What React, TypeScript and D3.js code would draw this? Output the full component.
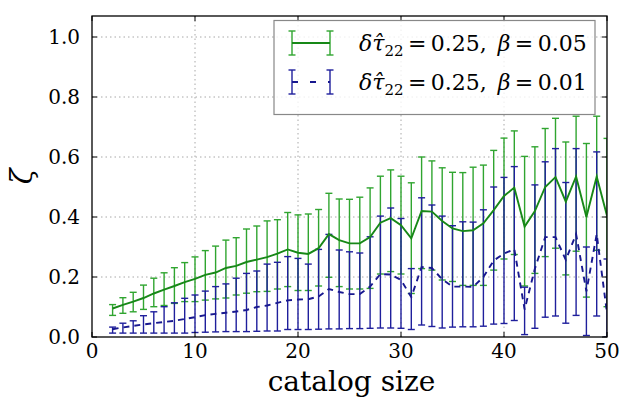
import React from "react";
import * as d3 from "d3";

const catalogSize = [2,3,4,5,6,7,8,9,10,11,12,13,14,15,16,17,18,19,20,21,22,23,24,25,26,27,28,29,30,31,32,33,34,35,36,37,38,39,40,41,42,43,44,45,46,47,48,49,50];

// series A: delta tau22 = 0.25, beta = 0.05
const meanA = [0.095,0.107,0.118,0.130,0.145,0.158,0.170,0.183,0.194,0.207,0.215,0.230,0.237,0.250,0.258,0.266,0.278,0.292,0.281,0.277,0.296,0.343,0.323,0.312,0.312,0.333,0.381,0.396,0.373,0.329,0.420,0.418,0.387,0.362,0.353,0.356,0.379,0.423,0.470,0.498,0.368,0.420,0.500,0.533,0.451,0.535,0.400,0.535,0.404];
const hiA = [0.108,0.131,0.149,0.173,0.196,0.214,0.231,0.248,0.267,0.288,0.303,0.323,0.331,0.360,0.370,0.387,0.391,0.415,0.407,0.410,0.425,0.479,0.460,0.459,0.466,0.497,0.536,0.557,0.536,0.514,0.600,0.587,0.564,0.549,0.548,0.566,0.573,0.622,0.663,0.687,0.602,0.634,0.695,0.729,0.650,0.736,0.645,0.736,0.662];
const loA = [0.072,0.079,0.084,0.092,0.101,0.105,0.112,0.118,0.118,0.123,0.127,0.130,0.140,0.146,0.151,0.152,0.160,0.168,0.155,0.155,0.170,0.199,0.168,0.160,0.160,0.162,0.210,0.218,0.210,0.145,0.228,0.223,0.190,0.185,0.172,0.172,0.172,0.223,0.260,0.275,0.170,0.212,0.268,0.296,0.207,0.286,0.133,0.289,0.101];

// series B: delta tau22 = 0.25, beta = 0.01
const meanB = [0.026,0.032,0.037,0.042,0.046,0.050,0.054,0.060,0.066,0.073,0.077,0.081,0.085,0.090,0.100,0.105,0.114,0.122,0.125,0.126,0.135,0.160,0.150,0.143,0.143,0.168,0.210,0.208,0.190,0.133,0.233,0.230,0.192,0.168,0.168,0.167,0.200,0.255,0.278,0.293,0.092,0.228,0.333,0.333,0.257,0.343,0.152,0.343,0.080];
const hiB = [0.033,0.046,0.054,0.071,0.084,0.101,0.114,0.129,0.140,0.153,0.168,0.177,0.196,0.212,0.220,0.243,0.249,0.268,0.262,0.243,0.292,0.342,0.290,0.284,0.280,0.334,0.403,0.430,0.395,0.228,0.464,0.440,0.403,0.371,0.384,0.383,0.424,0.500,0.532,0.568,0.166,0.507,0.584,0.628,0.515,0.628,0.300,0.617,0.260];
const loB = [0.013,0.013,0.013,0.013,0.013,0.013,0.013,0.013,0.015,0.016,0.017,0.018,0.018,0.018,0.019,0.020,0.020,0.025,0.025,0.025,0.026,0.027,0.027,0.028,0.028,0.029,0.030,0.030,0.029,0.025,0.040,0.035,0.030,0.033,0.034,0.034,0.036,0.043,0.045,0.055,0.008,0.029,0.066,0.070,0.046,0.072,0.005,0.070,0.000];

const xTicks = [0, 10, 20, 30, 40, 50];
const yTicks = [0.0, 0.2, 0.4, 0.6, 0.8, 1.0];

const W = 621, H = 406;
const L = 92, R = 607, T = 16, B = 337;
const FONT = "'DejaVu Serif', serif";

const greenLine = "#178817";
const greenBar = "#30a530";
const blueLine = "#18188f";
const blueBar = "#1f1f9c";

export default function App() {
  const x = d3.scaleLinear().domain([0, 50]).range([L, R]);
  const y = d3.scaleLinear().domain([0, 1.07]).range([B, T]);
  const lineGen = d3.line<number>().x((_, i) => x(catalogSize[i])).y((d) => y(d));
  const cap = 3.5;

  const bars = (lo: number[], hi: number[], color: string, key: string) =>
    catalogSize.map((c, i) => {
      const px = x(c);
      return (
        <g key={key + i} stroke={color} strokeWidth={1.4}>
          <line x1={px} x2={px} y1={y(lo[i])} y2={y(hi[i])} />
          <line x1={px - cap} x2={px + cap} y1={y(lo[i])} y2={y(lo[i])} />
          <line x1={px - cap} x2={px + cap} y1={y(hi[i])} y2={y(hi[i])} />
        </g>
      );
    });

  const legendRow = (yy: number, color: string, barColor: string, dashed: boolean, beta: string) => (
    <g>
      <g stroke={barColor} strokeWidth={1.4}>
        <line x1={292} x2={292} y1={yy - 12} y2={yy + 12} />
        <line x1={288.5} x2={295.5} y1={yy - 12} y2={yy - 12} />
        <line x1={288.5} x2={295.5} y1={yy + 12} y2={yy + 12} />
        <line x1={330} x2={330} y1={yy - 12} y2={yy + 12} />
        <line x1={326.5} x2={333.5} y1={yy - 12} y2={yy - 12} />
        <line x1={326.5} x2={333.5} y1={yy + 12} y2={yy + 12} />
      </g>
      <line x1={292} x2={330} y1={yy} y2={yy} stroke={color} strokeWidth={1.8}
        strokeDasharray={dashed ? "6,12" : undefined} />
      <text x={359} y={yy + 8} fontFamily={FONT} fontSize={22} fill="#000">
        <tspan fontStyle="italic">δ</tspan>
        <tspan fontStyle="italic">{"τ\u0302"}</tspan>
        <tspan fontSize={15} dy={5}>22</tspan>
        <tspan dy={-5}>{"\u2009=\u20090.25,\u2002"}</tspan>
        <tspan fontStyle="italic">β</tspan>
        <tspan>{"\u2009=\u2009" + beta}</tspan>
      </text>
    </g>
  );

  return (
    <svg width={W} height={H} style={{ position: "absolute", left: 0, top: 0, background: "#fff" }}>
      <defs>
        <clipPath id="plotClip">
          <rect x={L} y={T} width={R - L} height={B - T} />
        </clipPath>
      </defs>
      <rect x={0} y={0} width={W} height={H} fill="#fff" />
      {/* grid */}
      <g stroke="#a8a8a8" strokeWidth={1} strokeDasharray="1.5,3">
        {xTicks.slice(1, -1).map((t) => (
          <line key={"gx" + t} x1={x(t)} x2={x(t)} y1={T} y2={B} />
        ))}
        {yTicks.slice(1).map((t) => (
          <line key={"gy" + t} x1={L} x2={R} y1={y(t)} y2={y(t)} />
        ))}
      </g>
      <g clipPath="url(#plotClip)">
        {bars(loA, hiA, greenBar, "a")}
        {bars(loB, hiB, blueBar, "b")}
        <path d={lineGen(meanA) || ""} fill="none" stroke={greenLine} strokeWidth={1.9} />
        <path d={lineGen(meanB) || ""} fill="none" stroke={blueLine} strokeWidth={1.9} strokeDasharray="6,5" />
      </g>
      {/* ticks */}
      <g stroke="#000" strokeWidth={1}>
        {xTicks.map((t) => (
          <g key={"tx" + t}>
            <line x1={x(t)} x2={x(t)} y1={B} y2={B - 5} />
            <line x1={x(t)} x2={x(t)} y1={T} y2={T + 5} />
          </g>
        ))}
        {yTicks.map((t) => (
          <g key={"ty" + t}>
            <line x1={L} x2={L + 5} y1={y(t)} y2={y(t)} />
            <line x1={R} x2={R - 5} y1={y(t)} y2={y(t)} />
          </g>
        ))}
      </g>
      <rect x={L} y={T} width={R - L} height={B - T} fill="none" stroke="#000" strokeWidth={1.3} />
      {/* tick labels */}
      <g fontFamily={FONT} fontSize={20} fill="#000">
        {xTicks.map((t) => (
          <text key={"lx" + t} x={x(t)} y={358} textAnchor="middle">{String(t)}</text>
        ))}
        {yTicks.map((t) => (
          <text key={"ly" + t} x={80} y={y(t) + 7} textAnchor="end">{t.toFixed(1)}</text>
        ))}
      </g>
      <text x={(L + R) / 2 + 2} y={391} textAnchor="middle" fontFamily={FONT} fontSize={28} fill="#000">catalog size</text>
      <text transform={`translate(32, ${(T + B) / 2}) rotate(-90)`} textAnchor="middle" fontFamily={FONT}
        fontSize={29} fontStyle="italic" fill="#000">ζ</text>
      {/* legend */}
      <rect x={274} y={20.5} width={321} height={94} fill="#fff" fillOpacity={0.8} stroke="#888" strokeWidth={1.2} />
      {legendRow(43, greenLine, greenBar, false, "0.05")}
      {legendRow(82, blueLine, blueBar, true, "0.01")}
    </svg>
  );
}
